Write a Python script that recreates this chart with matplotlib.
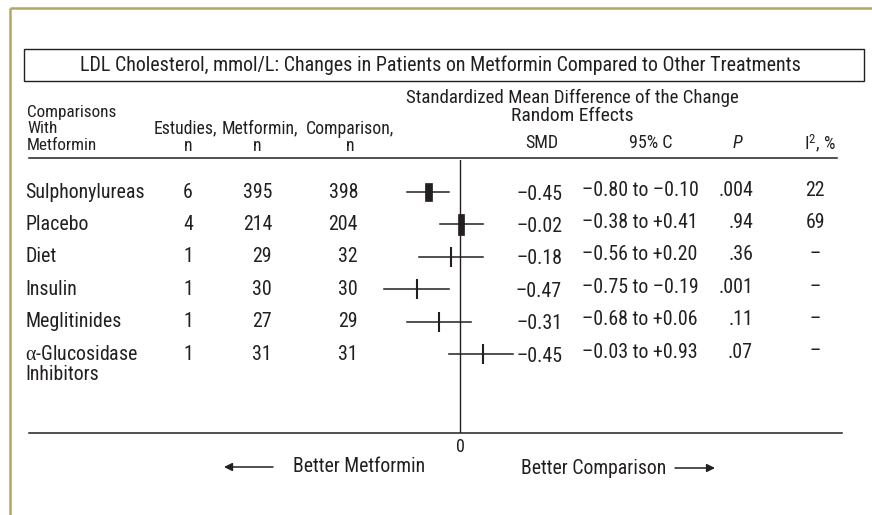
import matplotlib
matplotlib.use("Agg")
import matplotlib.pyplot as plt
import matplotlib.patches as patches
from matplotlib import font_manager

comparisons = [
    "Sulphonylureas",
    "Placebo",
    "Diet",
    "Insulin",
    "Meglitinides",
    "$\\alpha$-Glucosidase\nInhibitors",
]
n_studies = [6, 4, 1, 1, 1, 1]
n_metformin = [395, 214, 29, 30, 27, 31]
n_comparison = [398, 204, 32, 30, 29, 31]

smd_text = ["\u20130.45", "\u20130.02", "\u20130.18", "\u20130.47", "\u20130.31", "\u20130.45"]
ci_text = [
    "\u20130.80 to \u20130.10",
    "\u20130.38 to +0.41",
    "\u20130.56 to +0.20",
    "\u20130.75 to \u20130.19",
    "\u20130.68 to +0.06",
    "\u20130.03 to +0.93",
]
p_text = [".004", ".94", ".36", ".001", ".11", ".07"]
i2_text = ["22", "69", "\u2013", "\u2013", "\u2013", "\u2013"]

# positions of the marks as drawn in the figure
plot_pt = [-0.52, 0.02, -0.15, -0.72, -0.35, 0.38]
plot_lo = [-0.89, -0.33, -0.68, -1.26, -0.88, -0.18]
plot_hi = [-0.19, 0.39, 0.38, -0.18, 0.18, 0.89]
pooled = [True, True, False, False, False, False]

INK = "#231f20"
OLIVE = "#b3a75f"
W, H = 872, 515
PX_PER_UNIT = 60.0
ZERO_X = 460


def pick_font():
    # the original uses a condensed grotesque, take the narrowest one around
    entries = font_manager.fontManager.ttflist
    names = {f.name for f in entries}
    for cand in ["Liberation Sans Narrow", "Arial Narrow", "Roboto Condensed",
                 "Noto Sans Condensed", "Open Sans Condensed",
                 "DejaVu Sans Condensed"]:
        if cand in names:
            return cand, "normal"
    for f in entries:
        if f.stretch in ("condensed", "semi-condensed") or "ondensed" in f.fname:
            return f.name, "condensed"
    return "Roboto", "normal"


FONT, STRETCH = pick_font()

plt.rcParams["font.family"] = [FONT, "DejaVu Sans"]
plt.rcParams["font.stretch"] = STRETCH
plt.rcParams["mathtext.fontset"] = "custom"
plt.rcParams["mathtext.rm"] = FONT
plt.rcParams["mathtext.it"] = "Liberation Serif"
plt.rcParams["text.color"] = INK

fig = plt.figure(figsize=(W / 100, H / 100), dpi=100)

# background axes in pixel coordinates
bg = fig.add_axes([0, 0, 1, 1])
bg.set_xlim(0, W)
bg.set_ylim(H, 0)
bg.axis("off")

# frame
bg.plot([10, 10], [8, H], color=OLIVE, lw=1.8, solid_capstyle="butt")
bg.plot([10, W], [8, 8], color=OLIVE, lw=1.8, solid_capstyle="butt")

bg.add_patch(
    patches.Rectangle((24, 49), 840, 32, fill=False, edgecolor=INK, lw=1.0)
)
bg.text(
    440, 65,
    "LDL Cholesterol, mmol/L: Changes in Patients on Metformin Compared to Other Treatments",
    fontsize=14.4, ha="center", va="center"
)

# header
hs = 12.3
bg.text(27, 112, "Comparisons", fontsize=hs, va="center")
bg.text(27, 128.5, "With", fontsize=hs, va="center")
bg.text(27, 145, "Metformin", fontsize=hs, va="center")
bg.text(154, 128, "Estudies,", fontsize=12.8, va="center")
bg.text(222, 128, "Metformin,", fontsize=12.8, va="center")
bg.text(306, 129, "Comparison,", fontsize=12.8, va="center")
for x in [188, 257, 350]:
    bg.text(x, 146, "n", fontsize=12.8, ha="center", va="center")

bg.text(572, 98, "Standardized Mean Difference of the Change",
        fontsize=13.6, ha="center", va="center")
bg.text(572, 116, "Random Effects", fontsize=14, ha="center", va="center")
bg.text(542, 143, "SMD", fontsize=13, ha="center", va="center")
bg.text(651, 143, "95% C", fontsize=13, ha="center", va="center")
bg.text(737, 143, "P", fontsize=13, ha="center", va="center", style="italic")
bg.text(820, 143, "I$^{\\mathrm{2}}$, %", fontsize=13, ha="center", va="center")

bg.plot([29, 837], [158, 158], color=INK, lw=1.1)

# rows
rs = 14.3
row_y = [192 + 32.4 * i for i in range(len(comparisons))]
for i, y in enumerate(row_y):
    for k, line in enumerate(comparisons[i].split("\n")):
        bg.text(25, y + k * 20, line, fontsize=rs, va="center")
    bg.text(188, y, str(n_studies[i]), fontsize=rs, ha="center", va="center")
    bg.text(272, y, str(n_metformin[i]), fontsize=rs, ha="right", va="center")
    bg.text(358, y, str(n_comparison[i]), fontsize=rs, ha="right", va="center")
    bg.text(562, y + 2, smd_text[i], fontsize=rs, ha="right", va="center")
    bg.text(640, y - 2, ci_text[i], fontsize=rs, ha="center", va="center")
    bg.text(753, y - 2, p_text[i], fontsize=rs, ha="right", va="center")
    bg.text(815, y - 2, i2_text[i], fontsize=rs, ha="center", va="center")

# forest axes
left_px, right_px, top_px, bottom_px = 29, 842, 160, 432.7
ax = fig.add_axes([
    left_px / W,
    1 - bottom_px / H,
    (right_px - left_px) / W,
    (bottom_px - top_px) / H,
])
ax.patch.set_alpha(0)
ax.set_xlim((left_px - ZERO_X) / PX_PER_UNIT, (right_px - ZERO_X) / PX_PER_UNIT)
ax.set_ylim(bottom_px, top_px)
for side in ["top", "left", "right"]:
    ax.spines[side].set_visible(False)
ax.spines["bottom"].set_color(INK)
ax.spines["bottom"].set_linewidth(1.1)
ax.set_yticks([])
ax.set_xticks([0])
ax.set_xticklabels(["0"])
ax.tick_params(axis="x", length=0, pad=4, labelsize=13, colors=INK)

ax.axvline(0, color=INK, lw=1.0)

box_w = [7, 6]
box_h = [18, 21]
for i, y in enumerate(row_y):
    ax.plot([plot_lo[i], plot_hi[i]], [y, y], color=INK, lw=1.1)
    if pooled[i]:
        bw = box_w[i] / PX_PER_UNIT
        ax.add_patch(
            patches.Rectangle(
                (plot_pt[i] - bw / 2, y - box_h[i] / 2),
                bw, box_h[i],
                facecolor=INK, edgecolor=INK, lw=0.5
            )
        )
    else:
        ax.plot([plot_pt[i]], [y], marker="|", markersize=14,
                markeredgewidth=1.5, color=INK)

# direction labels
arrow = dict(arrowstyle="-|>", color=INK, lw=1.1,
             mutation_scale=12, shrinkA=0, shrinkB=0)
bg.annotate("", xy=(224, 467), xytext=(273, 467), arrowprops=arrow)
bg.text(293, 467, "Better Metformin", fontsize=14.2, va="center")
bg.text(521, 468, "Better Comparison", fontsize=14.2, va="center")
bg.annotate("", xy=(715, 468), xytext=(675, 468), arrowprops=arrow)

plt.savefig("out.png", dpi=100)
plt.close()
